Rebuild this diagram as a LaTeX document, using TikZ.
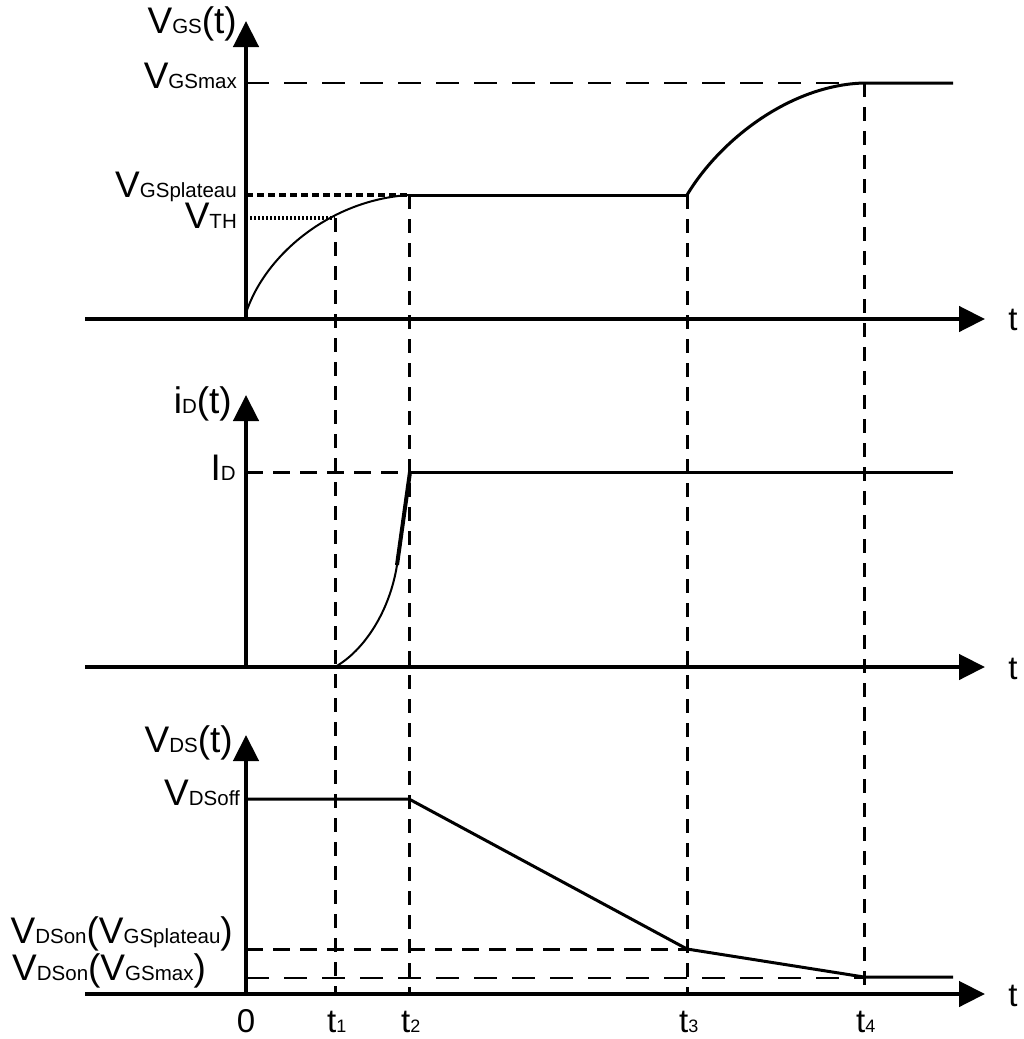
\documentclass[tikz,border=0pt]{standalone}
\usepackage{fontspec}
\setmainfont{Liberation Sans}
\usetikzlibrary{arrows.meta}
\newcommand\sbs[1]{{\fontsize{20.5}{20.5}\selectfont #1}}
\newcommand\tsb[1]{{\fontsize{18}{18}\selectfont #1}}
\begin{document}
\begin{tikzpicture}[x=1pt,y=-1pt,
  axis/.style={line width=4.5pt,-{Triangle[length=26pt,width=25pt]}},
  sig/.style={line width=3pt,line join=round},
  thinsig/.style={line width=2pt},
  guide/.style={line width=3pt,dash pattern=on 14pt off 10pt},
  hguide/.style={line width=3pt,dash pattern=on 17pt off 10pt},
  lguide/.style={line width=2.8pt,dash pattern=on 23pt off 15pt},
  dotA/.style={line width=3.4pt,dash pattern=on 7pt off 4pt},
  dotB/.style={line width=3.4pt,dash pattern=on 2.4pt off 1.6pt},
  lab/.style={inner sep=0pt,font=\fontsize{37}{37}\selectfont},
  tlab/.style={inner sep=0pt,font=\fontsize{33}{33}\selectfont}
]
\useasboundingbox (0,0) rectangle (1024,1039);
% key coordinates
\coordinate (O1) at (246,319);
\coordinate (O2) at (246,667);
\coordinate (O3) at (246,994);
\coordinate (A) at (246,313);
\coordinate (P1) at (335,218);
\coordinate (P2) at (409,195);
\coordinate (P3) at (687,195);
\coordinate (P4) at (864,83);
\coordinate (Q1) at (335,667);
\coordinate (Q2) at (397,565);
\coordinate (Q3) at (410,472);
\coordinate (R0) at (246,799);
\coordinate (R2) at (409,799);
\coordinate (R3) at (687,949);
\coordinate (R4) at (864,977);

% vertical guides
\draw[guide] (P1) -- (335,994);
\draw[guide] (P2) -- (409,994);
\draw[guide] (P3) -- (687,994);
\draw[guide] (P4) -- (864,994);

% horizontal guides
\draw[lguide] (246,83) -- (P4);
\draw[dotA] (246,195) -- (P2);
\draw[dotB] (246,218) -- (P1);
\draw[hguide] (246,472) -- (409,472);
\draw[hguide] (246,949) -- (R3);
\draw[lguide] (246,978) -- (864,978);

% axes
\draw[axis] (85,319) -- (985,319);
\draw[axis] (O1) -- (246,21);
\draw[axis] (85,667) -- (985,667);
\draw[axis] (O2) -- (246,395);
\draw[axis] (85,994) -- (985,994);
\draw[axis] (O3) -- (246,735);

% V_GS signal
\draw[thinsig] (A) .. controls (265,255) and (330,200) .. (P2);
\draw[sig] (P2) -- (P3);
\draw[sig] (P3) .. controls (720,140) and (790,85) .. (P4) -- (953,83);

% i_D signal
\draw[thinsig] (Q1) .. controls (365,650) and (390,610) .. (Q2);
\draw[line width=4pt] (Q2) -- (Q3);
\draw[sig] (409,472) -- (953,472);

% V_DS signal
\draw[sig] (R0) -- (R2) -- (R3) -- (R4) -- (953,977);

% labels
\node[lab,anchor=base east] (l1) at (237,33) {V\sbs{GS}(t)};
\node[lab,anchor=base east] (l2) at (237,88) {V\sbs{GSmax}};
\node[lab,anchor=base east] (l3) at (237,197) {V\sbs{GSplateau}};
\node[lab,anchor=base east] (l4) at (237,228) {V\sbs{TH}};
\node[lab,anchor=base east] (l5) at (232,413) {i\sbs{D}(t)};
\node[lab,anchor=base east] (l6) at (236,480) {I\sbs{D}};
\node[lab,anchor=base east] (l7) at (233,752) {V\sbs{DS}(t)};
\node[lab,anchor=base east] (l8) at (240,805) {V\sbs{DSoff}};
\node[lab,anchor=base east] (l9) at (233,943) {V\sbs{DSon}(V\sbs{GSplateau})};
\node[lab,anchor=base west] (l10) at (12,980) {V\sbs{DSon}(V\sbs{GSmax})};

\node[tlab,anchor=base] (ta) at (1013,330) {t};
\node[tlab,anchor=base] (tb) at (1013,679) {t};
\node[tlab,anchor=base] (tc) at (1013,1006) {t};

\node[tlab,anchor=base] (z0) at (246,1032) {0};
\node[tlab,anchor=base west] (z1) at (327,1032) {t\tsb{1}};
\node[tlab,anchor=base west] (z2) at (401,1032) {t\tsb{2}};
\node[tlab,anchor=base west] (z3) at (679,1032) {t\tsb{3}};
\node[tlab,anchor=base west] (z4) at (856,1032) {t\tsb{4}};
\end{tikzpicture}
\end{document}
